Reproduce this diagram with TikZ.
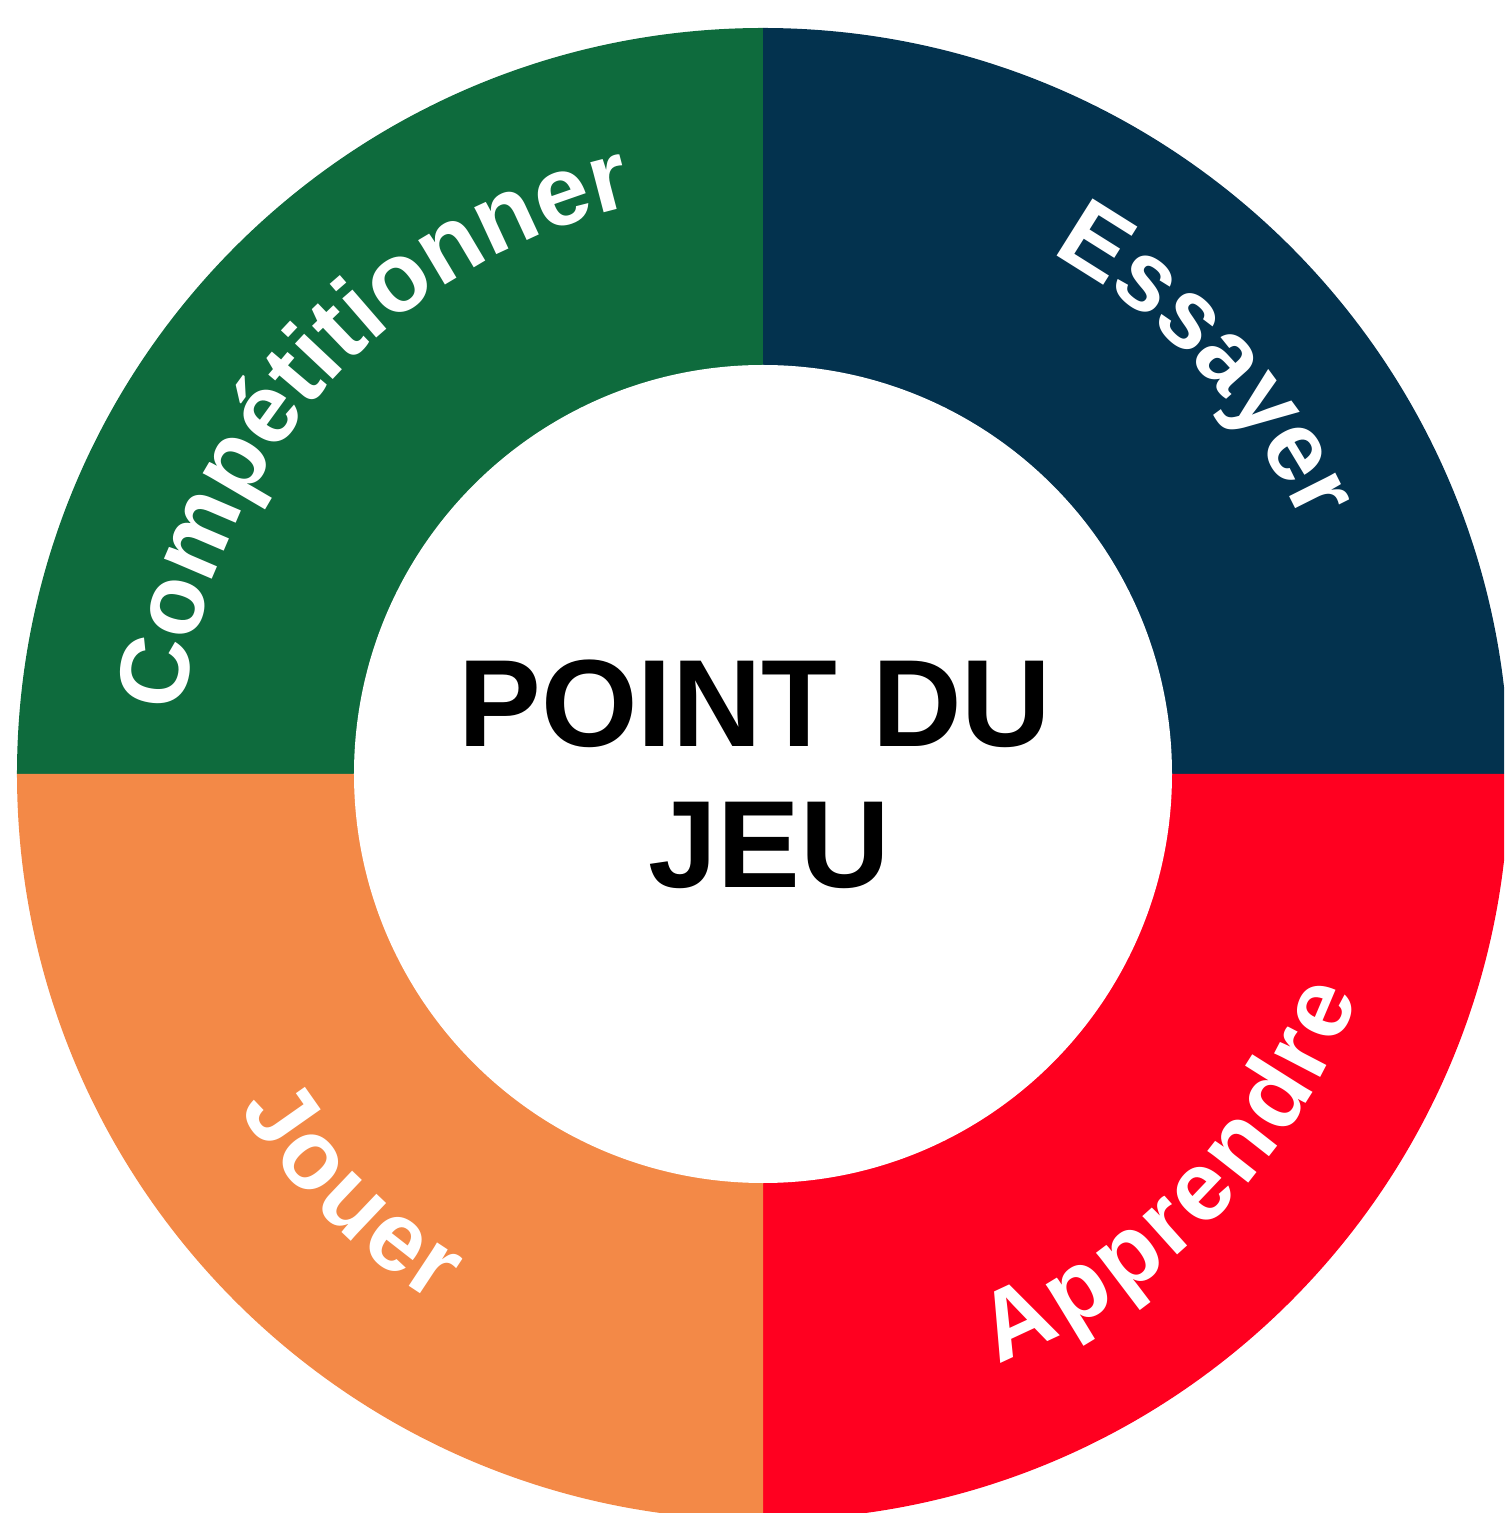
\documentclass[tikz,border=0pt]{standalone}
\usepackage{fontspec}
\setmainfont{Liberation Sans}
\usetikzlibrary{decorations.text}

\definecolor{compgreen}{HTML}{0E6B3D}
\definecolor{essaynavy}{HTML}{03324E}
\definecolor{apprred}{HTML}{FF0020}
\definecolor{joueorange}{HTML}{F38947}

\tikzset{
  ringtext/.style={decorate, decoration={text along path, text align=center,
      text color=white, text={|\fontsize{27.9}{30}\selectfont\bfseries|#1}}},
  centertext/.style={anchor=base, inner sep=0pt, font=\fontsize{35.3}{40}\selectfont\bfseries}
}

\begin{document}
\begin{tikzpicture}
  % picture size
  \useasboundingbox (-7.63,-7.39) rectangle (7.41,7.74);
  \clip (-7.63,-7.39) rectangle (7.41,7.74);

  % quarter sectors
  \fill[compgreen] (0,0) -- (90:7.46) arc (90:180:7.46) -- cycle;
  \fill[essaynavy] (0,0) -- (0:7.46) arc (0:90:7.46) -- cycle;
  \fill[apprred] (0,0) -- (270:7.46) arc (270:360:7.46) -- cycle;
  \fill[joueorange] (0,0) -- (180:7.46) arc (180:270:7.46) -- cycle;

  % inner disc
  \fill[white] (0,0) circle (4.09);

  % words round the ring
  \path[ringtext=Compétitionner] (178.4:5.83) arc (178.4:98.4:5.83);
  \path[ringtext=Essayer] (72.9:5.95) arc (72.9:12.9:5.95);
  \path[ringtext=Apprendre, decoration={raise=-0.45cm}] (-79.4:5.9) arc (-79.4:-9.4:5.9);
  \path[ringtext=Jouer, decoration={raise=-0.32cm}] (195.4:5.9) arc (195.4:255.4:5.9);

  % centre
  \node[centertext] (point) at (-0.08,0.27) {POINT DU};
  \node[centertext] (jeu) at (0.06,-1.14) {JEU};
\end{tikzpicture}
\end{document}
